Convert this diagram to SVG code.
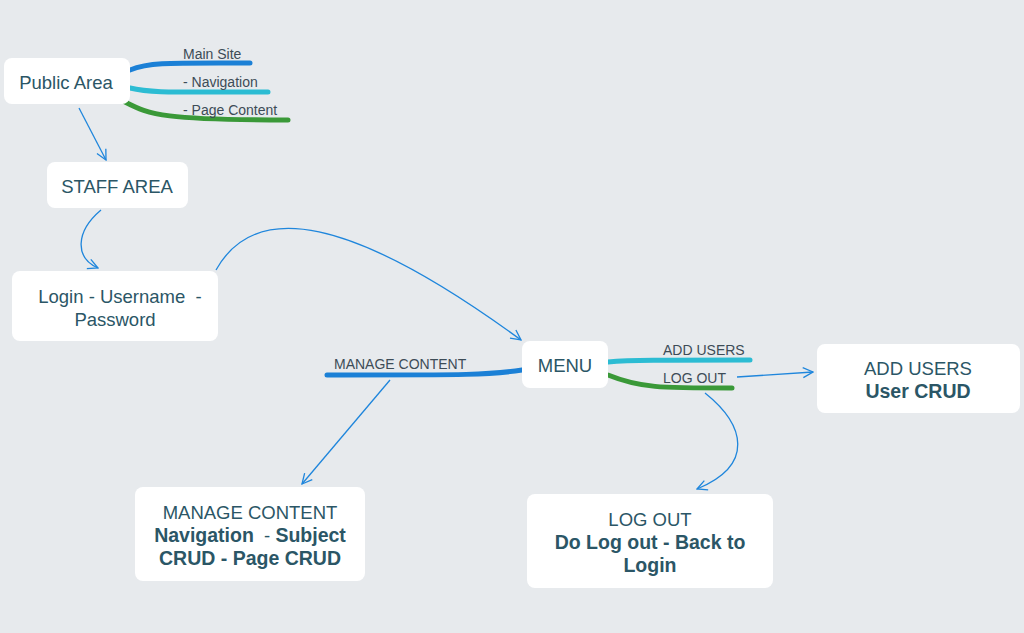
<svg xmlns="http://www.w3.org/2000/svg" width="1024" height="633" viewBox="0 0 1024 633">
<defs>
<style>
.node{fill:#ffffff;}
.t{font-family:"Liberation Sans",Arial,sans-serif;fill:#2b5666;text-anchor:middle;white-space:pre;font-size:18.5px;}
.b{font-weight:bold;font-size:19.5px;}
.lab{font-family:"Liberation Sans",Arial,sans-serif;font-size:14px;fill:#3d4c57;}
.br{fill:none;stroke-width:5;stroke-linecap:round;}
.blue{stroke:#1b80d6;}
.cyan{stroke:#2cbcd3;}
.green{stroke:#3a9938;}
.arr{fill:none;stroke:#1f86dc;stroke-width:1.3;marker-end:url(#ah);}
</style>
<marker id="ah" viewBox="0 0 12 12" refX="11" refY="6" markerWidth="12" markerHeight="12" markerUnits="userSpaceOnUse" orient="auto">
<path d="M1,1 L11,6 L1,11" fill="none" stroke="#1f86dc" stroke-width="1.3"/>
</marker>
</defs>
<rect width="1024" height="633" fill="#e7eaed"/>

<g id="connectors">
<path class="br blue" d="M130,70 C150,62 170,63 250,63"/>
<path class="br cyan" d="M130,88 C150,93 170,92 268,92"/>
<path class="br green" d="M125,102 C150,115 165,120 288,120"/>
<path class="br blue" d="M522,370 C490,375 470,375 327,375"/>
<path class="br cyan" d="M608,362 C630,360 660,360 750,360"/>
<path class="br green" d="M608,375 C640,388 660,388 732,388"/>
<path class="arr" d="M79,108 L106,160"/>
<path class="arr" d="M101,210 C75,232 75,258 98,268"/>
<path class="arr" d="M216,270 C255,200 350,215 521,340"/>
<path class="arr" d="M390,380 L302,484"/>
<path class="arr" d="M737,377 L813,372"/>
<path class="arr" d="M705,393 C745,425 755,465 697,489"/>
<text class="lab" x="183" y="59">Main Site</text>
<text class="lab" x="183" y="87">- Navigation</text>
<text class="lab" x="183" y="115">- Page Content</text>
<text class="lab" x="334" y="369">MANAGE CONTENT</text>
<text class="lab" x="663" y="355">ADD USERS</text>
<text class="lab" x="663" y="383">LOG OUT</text>
</g>

<g id="public-area">
<rect class="node" x="4" y="58" width="126" height="46" rx="8"/>
<text class="t" x="66" y="89" font-size="19">Public Area</text>
</g>
<g id="staff-area">
<rect class="node" x="47" y="162" width="141" height="46" rx="8"/>
<text class="t" x="117" y="193">STAFF AREA</text>
</g>
<g id="login">
<rect class="node" x="12" y="271" width="206" height="70" rx="8"/>
<text class="t" x="120" y="303" font-size="19.5" xml:space="preserve">Login - Username  -</text>
<text class="t" x="115" y="326" font-size="19.5">Password</text>
</g>
<g id="menu">
<rect class="node" x="522" y="341" width="86" height="47" rx="8"/>
<text class="t" x="565" y="372" font-size="19">MENU</text>
</g>
<g id="add-users">
<rect class="node" x="817" y="344" width="203" height="69" rx="8"/>
<text class="t" x="918" y="375">ADD USERS</text>
<text class="t b" x="918" y="398">User CRUD</text>
</g>
<g id="manage-content">
<rect class="node" x="135" y="487" width="230" height="94" rx="8"/>
<text class="t" x="250" y="519">MANAGE CONTENT</text>
<text class="t" x="250" y="542" xml:space="preserve"><tspan class="b">Navigation</tspan>  - <tspan class="b">Subject</tspan></text>
<text class="t b" x="250" y="565">CRUD - Page CRUD</text>
</g>
<g id="log-out">
<rect class="node" x="527" y="494" width="246" height="94" rx="8"/>
<text class="t" x="650" y="526">LOG OUT</text>
<text class="t b" x="650" y="549">Do Log out - Back to</text>
<text class="t b" x="650" y="572">Login</text>
</g>
</svg>
